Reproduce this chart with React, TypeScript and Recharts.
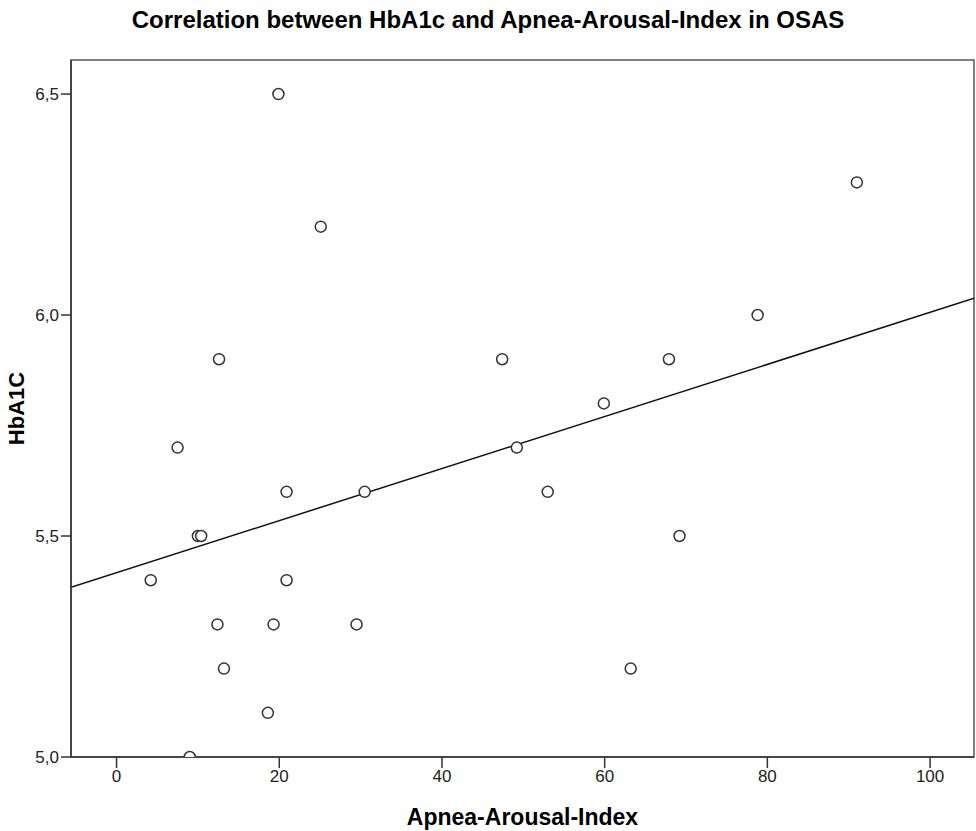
import React from 'react';
import {
  ScatterChart,
  Scatter,
  XAxis,
  YAxis,
  ReferenceLine,
  ReferenceArea,
  Label,
} from 'recharts';

// Apnea-Arousal-Index vs HbA1c
const arousalIndex = [4.2, 7.5, 9.0, 10.0, 10.4, 12.4, 12.6, 13.2, 18.6, 19.3, 19.9, 20.9, 20.9, 25.1, 29.5, 30.5, 47.4, 49.2, 53.0, 59.9, 63.2, 67.9, 69.2, 78.8, 91.0];
const hba1c = [5.4, 5.7, 5.0, 5.5, 5.5, 5.3, 5.9, 5.2, 5.1, 5.3, 6.5, 5.4, 5.6, 6.2, 5.3, 5.6, 5.9, 5.7, 5.6, 5.8, 5.2, 5.9, 5.5, 6.0, 6.3];

const xTicks = [0, 20, 40, 60, 80, 100];
const yTicks = [5.0, 5.5, 6.0, 6.5];
const xDomain: [number, number] = [-5.6, 105.4];
const yDomain: [number, number] = [5.0, 6.577];

// fit line (linear)
const fitIntercept = 5.417;
const fitSlope = 0.00589;

const points = arousalIndex.map((x, i) => ({ x, y: hba1c[i] }));
const fitLine = xDomain.map(x => ({ x, y: fitIntercept + fitSlope * x }));

const font = '"Liberation Sans", Arial, sans-serif';

const Ring = (props: any) => (
  <circle cx={props.cx} cy={props.cy} r={5.5} fill="#fff" stroke="#333" strokeWidth={1.5} />
);

export default function App() {
  return (
    <div style={{ position: 'absolute', left: 0, top: 0, width: 976, height: 831, background: '#fff', fontFamily: font }}>
      <div
        style={{
          position: 'absolute',
          top: 6,
          left: 0,
          width: 976,
          textAlign: 'center',
          fontWeight: 'bold',
          fontSize: 24,
          lineHeight: '28px',
          color: '#000',
        }}
      >
        Correlation between HbA1c and Apnea-Arousal-Index in OSAS
      </div>
      <ScatterChart width={976} height={831} margin={{ top: 60, right: 2, bottom: 34, left: 11 }}>
        <XAxis
          type="number"
          dataKey="x"
          domain={xDomain}
          ticks={xTicks}
          allowDataOverflow
          height={40}
          stroke="#333"
          strokeWidth={1.5}
          tickSize={11}
          tickMargin={2}
          tick={{ fill: '#222', fontSize: 17, fontFamily: font }}
        >
          <Label value="Apnea-Arousal-Index" position="insideBottom" offset={-28} style={{ fontWeight: 'bold', fontSize: 23, fill: '#000', fontFamily: font }} />
        </XAxis>
        <YAxis
          type="number"
          dataKey="y"
          domain={yDomain}
          ticks={yTicks}
          allowDataOverflow
          width={60}
          stroke="#333"
          strokeWidth={1.5}
          tickSize={10}
          tickMargin={2}
          tickFormatter={(v: number) => v.toFixed(1).replace('.', ',')}
          tick={{ fill: '#222', fontSize: 17, fontFamily: font }}
        >
          <Label value="HbA1C" angle={-90} position="insideLeft" offset={5} style={{ fontWeight: 'bold', fontSize: 22, fill: '#000', fontFamily: font, textAnchor: 'middle' }} />
        </YAxis>
        <ReferenceArea x1={xDomain[0]} x2={xDomain[1]} y1={yDomain[0]} y2={yDomain[1]} fill="none" stroke="#555" strokeWidth={1.5} ifOverflow="visible" />
        <ReferenceLine segment={fitLine} stroke="#111" strokeWidth={1.5} ifOverflow="hidden" />
        <Scatter data={points} shape={<Ring />} isAnimationActive={false} />
      </ScatterChart>
    </div>
  );
}
